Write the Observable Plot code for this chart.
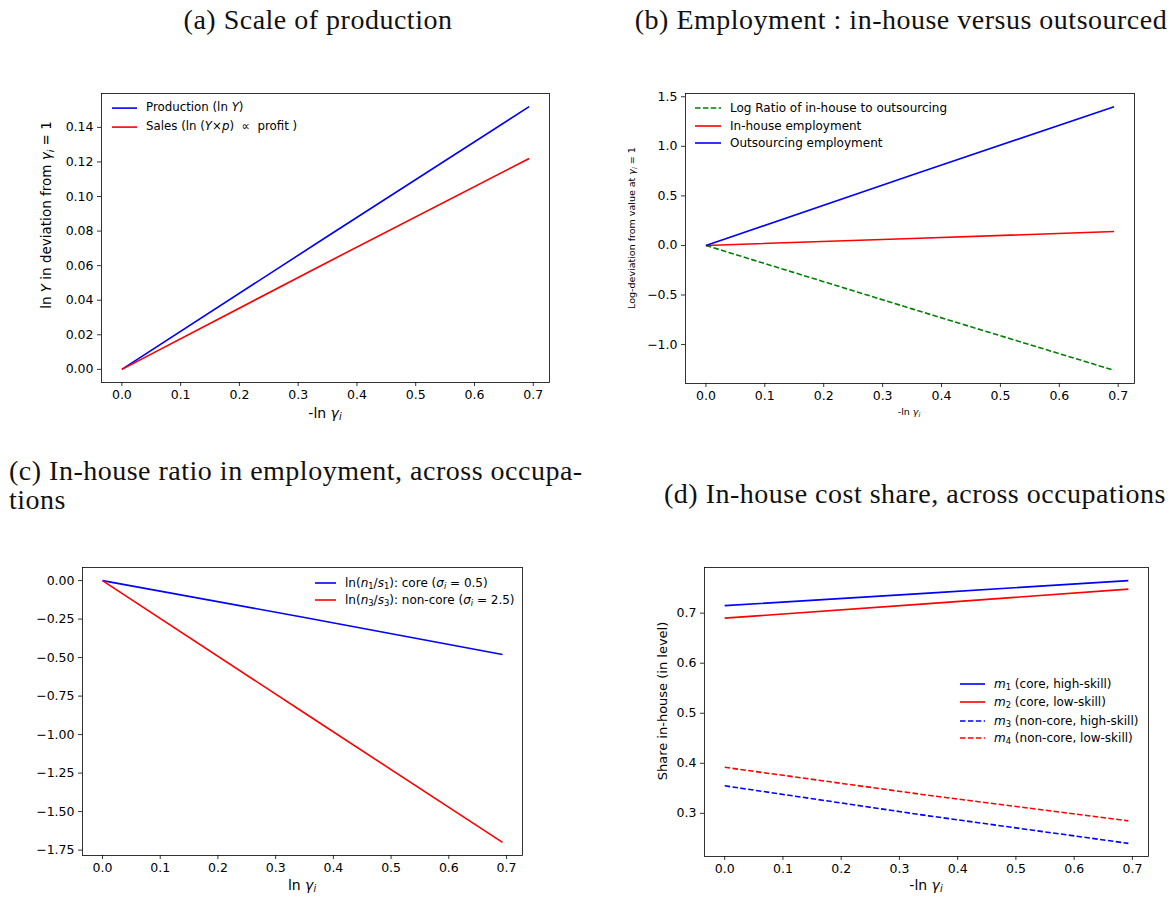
<!DOCTYPE html>
<html><head><meta charset="utf-8">
<script src="https://cdn.jsdelivr.net/npm/d3@7"></script>
<script src="https://cdn.jsdelivr.net/npm/@observablehq/plot@0.6"></script>
<style>
html,body{margin:0;padding:0;background:#fff;}
#page{position:relative;width:1176px;height:899px;overflow:hidden;font-family:"DejaVu Sans",sans-serif;color:#000;}
.abs{position:absolute;white-space:nowrap;line-height:1;}
.title{font-family:"Liberation Serif","Times New Roman",serif;font-size:28px;letter-spacing:0.5px;color:#111;}
sub{font-size:0.7em;vertical-align:-0.25em;line-height:0;font-style:normal;}
.leg{display:flex;align-items:center;font-size:12px;}
</style></head><body><div id="page"></div>
<script>
// ---------- data ----------
const xGamma = [0, 0.35, 0.693];           // -ln gamma_i (or ln gamma_i in panel c)
const xTicks = [0, 0.1, 0.2, 0.3, 0.4, 0.5, 0.6, 0.7];

// (a) Scale of production
const aProduction = [0, 0.077, 0.152];
const aSales = [0, 0.062, 0.122];
const aYTicks = [0, 0.02, 0.04, 0.06, 0.08, 0.10, 0.12, 0.14];

// (b) Employment
const bLogRatio = [0, -0.64, -1.26];
const bInHouse = [0, 0.07, 0.14];
const bOutsourcing = [0, 0.71, 1.40];
const bYTicks = [-1.0, -0.5, 0.0, 0.5, 1.0, 1.5];

// (c) In-house ratio in employment
const cCore = [0, -0.24, -0.48];
const cNonCore = [0, -0.86, -1.70];
const cYTicks = [0, -0.25, -0.5, -0.75, -1.0, -1.25, -1.5, -1.75];

// (d) In-house cost share
const dM1 = [0.715, 0.740, 0.765];
const dM2 = [0.690, 0.719, 0.748];
const dM3 = [0.355, 0.295, 0.240];
const dM4 = [0.392, 0.336, 0.285];
const dYTicks = [0.3, 0.4, 0.5, 0.6, 0.7];

const page = document.getElementById("page");
const DASH = "5.5,2.4";

function panel({frame:[x0,y0,x1,y1], series, yTicks, yFormat}) {
  const ML = 70, MR = 10, MT = 10, MB = 40;
  const all = series.flatMap(s => s.y);
  const [lo, hi] = d3.extent(all), pad = (hi - lo) * 0.05;
  const [xlo, xhi] = d3.extent(xGamma), xp = (xhi - xlo) * 0.05;
  const marks = [];
  for (const s of series) {
    marks.push(Plot.line(xGamma.map((x, i) => ({x, y: s.y[i]})), {
      x: "x", y: "y", stroke: s.color, strokeWidth: 1.6,
      strokeDasharray: s.dash ? DASH : undefined, strokeLinecap: "butt"
    }));
  }
  marks.push(Plot.frame({stroke: "black", strokeWidth: 0.8}));
  marks.push(Plot.axisX({ticks: xTicks, tickFormat: d3.format(".1f"), tickSize: 4, tickPadding: 4, label: null, strokeWidth: 0.8}));
  marks.push(Plot.axisY({ticks: yTicks, tickFormat: d3.format(yFormat), tickSize: 4, tickPadding: 4, label: null, strokeWidth: 0.8}));
  const svg = Plot.plot({
    width: (x1 - x0) + ML + MR, height: (y1 - y0) + MT + MB,
    marginLeft: ML, marginRight: MR, marginTop: MT, marginBottom: MB,
    x: {domain: [xlo - xp, xhi + xp]},
    y: {domain: [lo - pad, hi + pad]},
    style: {fontFamily: "DejaVu Sans", fontSize: "12.5px", color: "black", background: "transparent", overflow: "visible"},
    marks
  });
  svg.style.position = "absolute";
  svg.style.left = (x0 - ML) + "px";
  svg.style.top = (y0 - MT) + "px";
  page.appendChild(svg);
}

function text(html, cx, cy, size, opts = {}) {
  const d = document.createElement("div");
  d.className = "abs";
  d.style.left = cx + "px"; d.style.top = cy + "px";
  d.style.fontSize = size + "px";
  d.style.transform = "translate(-50%,-50%)" + (opts.rotate ? " rotate(-90deg)" : "");
  d.innerHTML = html;
  page.appendChild(d);
}

function title(str, x, baseline, anchor) {
  const d = document.createElement("div");
  d.className = "abs title";
  d.textContent = str;
  page.appendChild(d);
  const fs = 28;
  d.style.top = (baseline - 0.8375 * fs) + "px";
  if (anchor === "middle") { d.style.left = x + "px"; d.style.transform = "translateX(-50%)"; }
  else d.style.left = x + "px";
}

function legend(items, sx, tx, ys, fs) {
  items.forEach((it, i) => {
    const d = document.createElement("div");
    d.className = "abs leg";
    d.style.left = sx + "px"; d.style.top = ys[i] + "px";
    d.style.transform = "translateY(-50%)";
    d.style.fontSize = fs + "px";
    const w = tx - sx;
    d.innerHTML = `<svg width="${w}" height="4" style="flex:none"><line x1="0" x2="${w - 9}" y1="2" y2="2" stroke="${it.color}" stroke-width="1.6" ${it.dash ? `stroke-dasharray="${DASH}"` : ""}/></svg><span>${it.label}</span>`;
    page.appendChild(d);
  });
}

const G = '<i>γ</i><sub><i>i</i></sub>';

// ---- titles ----
title("(a) Scale of production", 318, 29, "middle");
title("(b) Employment : in-house versus outsourced", 901, 29, "middle");
title("(c) In-house ratio in employment, across occupa-", 9, 480, "start");
title("tions", 9, 509, "start");
title("(d) In-house cost share, across occupations", 915, 503, "middle");

// ---- panel (a) ----
panel({frame: [101, 93, 549, 382], yTicks: aYTicks, yFormat: ".2f", series: [
  {y: aProduction, color: "#0000ff"},
  {y: aSales, color: "#ff0000"}
]});
legend([
  {label: "Production (ln <i>Y</i>)", color: "#0000ff"},
  {label: "Sales (ln (<i>Y</i>×<i>p</i>) &nbsp;∝&nbsp; profit )", color: "#ff0000"}
], 112, 146, [108, 127], 11.8);
text("-ln " + G, 325, 413, 14);
text("ln <i>Y</i> in deviation from " + G + " = 1", 47, 215, 13.5, {rotate: true});

// ---- panel (b) ----
panel({frame: [685, 93, 1134, 383], yTicks: bYTicks, yFormat: ".1f", series: [
  {y: bLogRatio, color: "#008000", dash: true},
  {y: bInHouse, color: "#ff0000"},
  {y: bOutsourcing, color: "#0000ff"}
]});
legend([
  {label: "Log Ratio of in-house to outsourcing", color: "#008000", dash: true},
  {label: "In-house employment", color: "#ff0000"},
  {label: "Outsourcing employment", color: "#0000ff"}
], 695, 730, [108, 126, 143], 12);
text("-ln " + G, 909, 412, 9.5);
text("Log-deviation from value at " + G + " = 1", 632, 228, 9.5, {rotate: true});

// ---- panel (c) ----
panel({frame: [82, 567, 522, 855], yTicks: cYTicks, yFormat: ".2f", series: [
  {y: cCore, color: "#0000ff"},
  {y: cNonCore, color: "#ff0000"}
]});
legend([
  {label: "ln(<i>n</i><sub>1</sub>/<i>s</i><sub>1</sub>): core (<i>σ</i><sub><i>i</i></sub> = 0.5)", color: "#0000ff"},
  {label: "ln(<i>n</i><sub>3</sub>/<i>s</i><sub>3</sub>): non-core (<i>σ</i><sub><i>i</i></sub> = 2.5)", color: "#ff0000"}
], 315, 345, [583, 600], 12);
text("ln " + G, 302, 885, 14);

// ---- panel (d) ----
panel({frame: [704, 567, 1148, 856], yTicks: dYTicks, yFormat: ".1f", series: [
  {y: dM1, color: "#0000ff"},
  {y: dM2, color: "#ff0000"},
  {y: dM3, color: "#0000ff", dash: true},
  {y: dM4, color: "#ff0000", dash: true}
]});
legend([
  {label: "<i>m</i><sub>1</sub> (core, high-skill)", color: "#0000ff"},
  {label: "<i>m</i><sub>2</sub> (core, low-skill)", color: "#ff0000"},
  {label: "<i>m</i><sub>3</sub> (non-core, high-skill)", color: "#0000ff", dash: true},
  {label: "<i>m</i><sub>4</sub> (non-core, low-skill)", color: "#ff0000", dash: true}
], 960, 994, [684, 702, 721, 738], 12);
text("-ln " + G, 926, 885, 14);
text("Share in-house (in level)", 662, 701, 13, {rotate: true});
</script></body></html>
